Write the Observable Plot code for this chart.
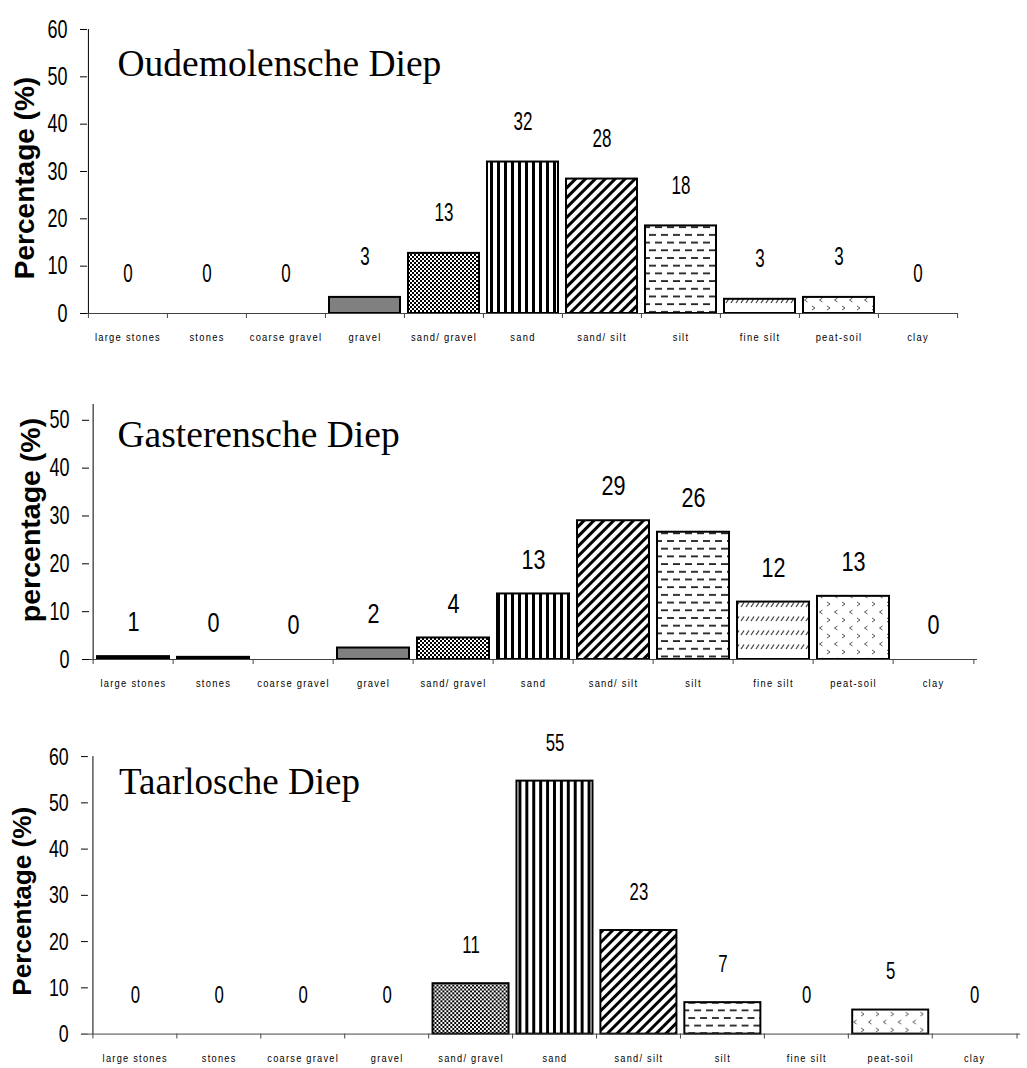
<!DOCTYPE html>
<html>
<head>
<meta charset="utf-8">
<script src="https://cdn.jsdelivr.net/npm/d3@7"></script>
<script src="https://cdn.jsdelivr.net/npm/@observablehq/plot@0.6"></script>
<style>
  html, body { margin: 0; padding: 0; background: #fff; }
  #wrap { position: relative; width: 1027px; height: 1068px; overflow: hidden; background: #fff; }
  #wrap svg { display: block; }
  g[aria-label="x-axis tick label"] text { letter-spacing: 1.5px; }
</style>
</head>
<body>
<svg width="0" height="0" style="position:absolute">
  <defs>
    <pattern id="pCheck" width="4" height="4" patternUnits="userSpaceOnUse">
      <rect width="4" height="4" fill="#fff"/>
      <rect width="2" height="2" fill="#000"/>
      <rect x="2" y="2" width="2" height="2" fill="#000"/>
    </pattern>
    <pattern id="pVert" width="7" height="7" patternUnits="userSpaceOnUse">
      <rect width="7" height="7" fill="#fff"/>
      <rect width="3" height="7" fill="#000"/>
    </pattern>
    <pattern id="pDiag" width="7" height="7" patternUnits="userSpaceOnUse" patternTransform="rotate(45)">
      <rect width="7" height="7" fill="#fff"/>
      <rect width="3" height="7" fill="#000"/>
    </pattern>
    <pattern id="pDash" width="12" height="15.4" patternUnits="userSpaceOnUse">
      <rect width="12" height="15.4" fill="#fff"/>
      <rect x="1" y="3" width="7" height="1.8" fill="#222"/>
      <rect x="7" y="10.7" width="5" height="1.8" fill="#222"/>
      <rect x="0" y="10.7" width="2" height="1.8" fill="#222"/>
    </pattern>
    <pattern id="pFine" width="5" height="14" patternUnits="userSpaceOnUse">
      <rect width="5" height="14" fill="#fff"/>
      <line x1="1" y1="9" x2="4" y2="4.5" stroke="#444" stroke-width="1.3"/>
    </pattern>
    <pattern id="pPeat" width="15" height="16" patternUnits="userSpaceOnUse">
      <rect width="15" height="16" fill="#fff"/>
      <polyline points="2,2 5,4 2,6" fill="none" stroke="#555" stroke-width="1"/>
      <polyline points="12.5,10 9.5,12 12.5,14" fill="none" stroke="#555" stroke-width="1"/>
    </pattern>
  </defs>
</svg>
<div id="wrap"></div>
<script>
// ---------------- data ----------------
const categories = ["large stones", "stones", "coarse gravel", "gravel", "sand/ gravel", "sand", "sand/ silt", "silt", "fine silt", "peat-soil", "clay"];

const oudemolenscheValues = [0, 0, 0, 3.4, 12.7, 32.0, 28.4, 18.5, 3.0, 3.4, 0];
const oudemolenscheLabels = ["0", "0", "0", "3", "13", "32", "28", "18", "3", "3", "0"];

const gasterenscheValues = [0.6, 0.45, 0, 2.4, 4.5, 13.7, 29.0, 26.6, 12.0, 13.2, 0];
const gasterenscheLabels = ["1", "0", "0", "2", "4", "13", "29", "26", "12", "13", "0"];

const taarloscheValues = [0, 0, 0, 0, 10.9, 54.7, 22.4, 6.8, 0, 5.2, 0];
const taarloscheLabels = ["0", "0", "0", "0", "11", "55", "23", "7", "0", "5", "0"];

const ticks60 = [0, 10, 20, 30, 40, 50, 60];
const ticks50 = [0, 10, 20, 30, 40, 50];

// ---------------- styles ----------------
const fillStyles = {
  "large stones": "#000",
  "stones": "#000",
  "coarse gravel": "#fff",
  "gravel": "#808080",
  "sand/ gravel": "url(#pCheck)",
  "sand": "url(#pVert)",
  "sand/ silt": "url(#pDiag)",
  "silt": "url(#pDash)",
  "fine silt": "url(#pFine)",
  "peat-soil": "url(#pPeat)",
  "clay": "#fff"
};
const SANS = "'Liberation Sans', Arial, sans-serif";

// horizontally condense text (emulates a narrow face)
function condenseTexts(texts, sx) {
  texts.forEach(t => {
    const tr = t.getAttribute("transform");
    if (tr) {
      t.setAttribute("transform", tr + ` scale(${sx},1)`);
    } else {
      const x = +(t.getAttribute("x") || 0), y = +(t.getAttribute("y") || 0);
      t.removeAttribute("x"); t.removeAttribute("y");
      t.setAttribute("transform", `translate(${x},${y}) scale(${sx},1)`);
    }
  });
}

function drawPanel(cfg) {
  const data = categories.map((c, i) => ({category: c, value: cfg.values[i], label: cfg.labels[i]}));
  const step = (cfg.width - cfg.marginLeft - cfg.marginRight) / categories.length;
  const svg = Plot.plot({
    width: cfg.width,
    height: cfg.height,
    marginTop: cfg.marginTop,
    marginBottom: cfg.marginBottom,
    marginLeft: cfg.marginLeft,
    marginRight: cfg.marginRight,
    style: {fontFamily: SANS, color: "#000", background: "transparent", overflow: "visible"},
    x: {type: "band", domain: categories, paddingInner: 0.1, paddingOuter: 0.05},
    y: {domain: cfg.yDomain},
    color: {type: "identity"},
    marks: [
      Plot.barY(data.filter(d => d.value > 0), {
        x: "category", y: "value",
        fill: d => fillStyles[d.category],
        stroke: "#000", strokeWidth: 2
      }),
      Plot.ruleY([0], {stroke: "#444", strokeWidth: 1}),
      Plot.ruleX(categories, {x: d => d, y1: 0, y2: 0, insetBottom: -5, dx: -step / 2, stroke: "#444"}),
      Plot.ruleX(categories.slice(-1), {x: d => d, y1: 0, y2: 0, insetBottom: -5, dx: step / 2, stroke: "#444"}),
      Plot.ruleX(categories.slice(0, 1), {x: d => d, dx: -step / 2, stroke: "#000"}),
      Plot.axisY({ticks: cfg.yTicks, tickSize: 7, tickPadding: 13, fontSize: 25, label: null}),
      Plot.axisX({tickSize: 0, tickPadding: 20, fontSize: 11, label: null}),
      Plot.text(data, {
        x: "category", y: "value", text: "label",
        dy: -cfg.labelOffset, lineAnchor: "middle", textAnchor: "middle",
        fontSize: cfg.labelSize
      }),
      Plot.text([cfg.title], {
        text: d => d, frameAnchor: "top-left", dx: cfg.titleDx, dy: cfg.titleDy,
        textAnchor: "start", lineAnchor: "middle",
        fontFamily: "'Liberation Serif', 'Times New Roman', serif", fontSize: cfg.titleSize
      }),
      Plot.text([cfg.yLabel], {
        text: d => d, frameAnchor: "left", rotate: -90,
        dx: cfg.yLabelDx, dy: cfg.yLabelDy, lineAnchor: "middle", textAnchor: "middle",
        fontWeight: "bold", fontSize: cfg.yLabelSize
      })
    ]
  });
  // first text-mark group = the value labels
  const textGroups = svg.querySelectorAll('g[aria-label="text"]');
  if (textGroups.length) condenseTexts(textGroups[0].querySelectorAll("text"), cfg.labelScale);
  condenseTexts(svg.querySelectorAll('g[aria-label="y-axis tick label"] text'), 0.72);
  condenseTexts(svg.querySelectorAll('g[aria-label="x-axis tick label"] text'), 0.85);
  document.getElementById("wrap").appendChild(svg);
}

drawPanel({
  values: oudemolenscheValues, labels: oudemolenscheLabels,
  title: "Oudemolensche Diep", yLabel: "Percentage (%)",
  yDomain: [0, 60], yTicks: ticks60,
  width: 1027, height: 360, marginTop: 29, marginBottom: 47, marginLeft: 87, marginRight: 69,
  labelOffset: 40, labelSize: 25, labelScale: 0.68,
  titleDx: 30, titleDy: 34, titleSize: 37.5,
  yLabelDx: -62, yLabelDy: 6.5, yLabelSize: 28
});

drawPanel({
  values: gasterenscheValues, labels: gasterenscheLabels,
  title: "Gasterensche Diep", yLabel: "percentage (%)",
  yDomain: [0, 53.3], yTicks: ticks50,
  width: 1027, height: 350, marginTop: 44, marginBottom: 51, marginLeft: 89, marginRight: 50,
  labelOffset: 34, labelSize: 27, labelScale: 0.8,
  titleDx: 28, titleDy: 30, titleSize: 37.5,
  yLabelDx: -59, yLabelDy: -12, yLabelSize: 28.5
});

drawPanel({
  values: taarloscheValues, labels: taarloscheLabels,
  title: "Taarlosche Diep", yLabel: "Percentage (%)",
  yDomain: [0, 60], yTicks: ticks60,
  width: 1040, height: 358, marginTop: 46.7, marginBottom: 30.3, marginLeft: 89, marginRight: 7,
  labelOffset: 39, labelSize: 25, labelScale: 0.68,
  titleDx: 31, titleDy: 26.3, titleSize: 37.5,
  yLabelDx: -67, yLabelDy: 6, yLabelSize: 26.5
});
</script>
</body>
</html>
